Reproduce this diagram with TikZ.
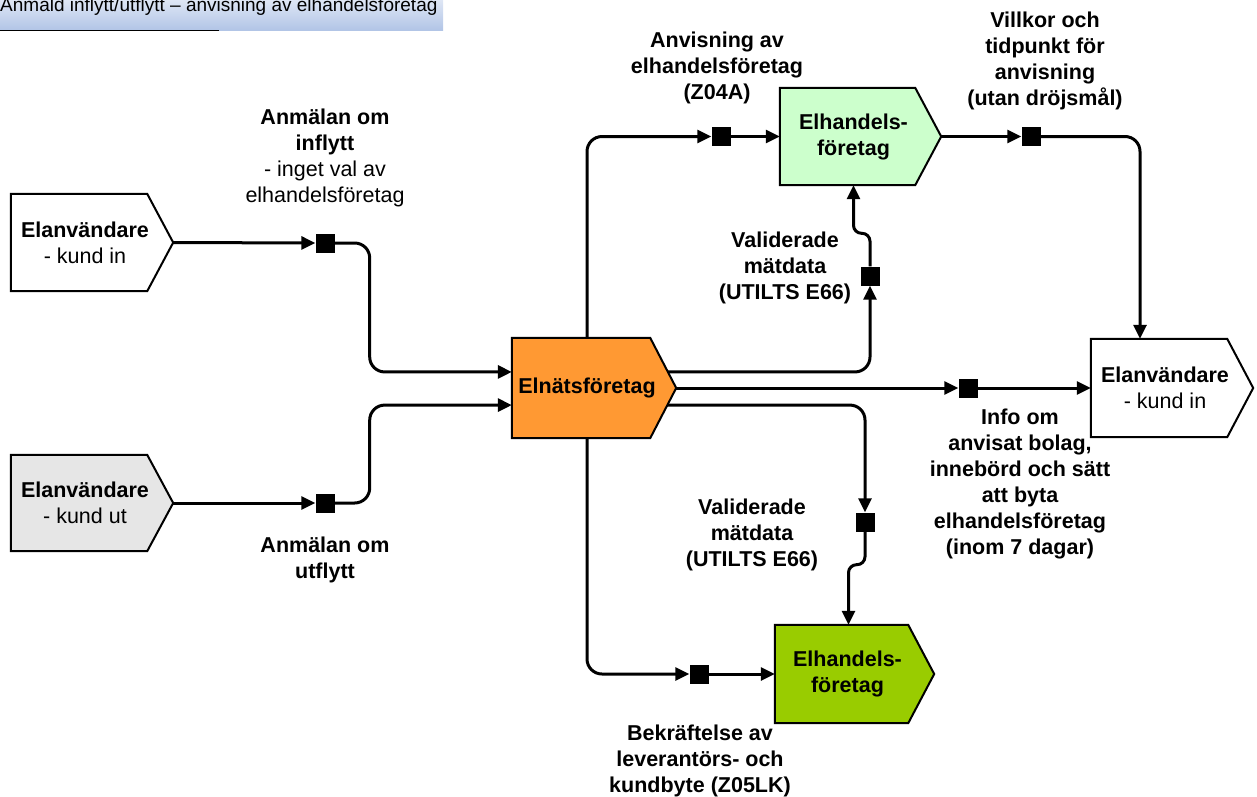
\documentclass[tikz,border=0pt]{standalone}
\usepackage{fontspec}
\setmainfont{Liberation Sans}
\usetikzlibrary{arrows.meta,calc}
\pgfdeclarelayer{bg}
\pgfsetlayers{bg,main}
\definecolor{orangeF}{RGB}{255,153,51}
\definecolor{lgreen}{RGB}{204,255,204}
\definecolor{dgreen}{RGB}{153,204,0}
\definecolor{lgray}{RGB}{230,230,230}
\definecolor{hdrtop}{RGB}{222,230,245}
\definecolor{hdrbot}{RGB}{178,197,230}
\tikzset{
  boxline/.style={draw=black, line width=2pt, line join=miter},
  boxtext/.style={align=center, font=\fontsize{21.5}{26}\selectfont, inner sep=0pt},
  lbl/.style={align=center, font=\fontsize{21.5}{26}\selectfont\bfseries, inner sep=0pt},
  sq/.style={fill=black, draw=none, minimum size=19pt, inner sep=0pt},
  conn/.style={line width=3pt, rounded corners=15pt},
  arr/.style={-{Triangle[length=14pt,width=13pt]}},
}
\newcommand\pentbox[7]{%
  \node[inner sep=0pt, minimum width=#4pt, minimum height=#5pt] (#1) at (#2,#3) {};
  \coordinate (#1-tip) at ([xshift=26pt]#1.east);
  \draw[boxline, fill=#6] (#1.north west) -- (#1.north east) -- (#1-tip) -- (#1.south east) -- (#1.south west) -- cycle;
  \node[boxtext] (#1-t) at ([xshift=6pt]#1.center) {#7};
}
\begin{document}
\begin{tikzpicture}[x=1pt, y=-1pt]
\useasboundingbox (0,0) rectangle (1257,796);
% header
\shade[top color=hdrtop, bottom color=hdrbot] (0,0) rectangle (443,30);
\node[anchor=base west, font=\fontsize{19}{22}\selectfont, inner sep=0pt] (hdr) at (0,11) {Anmäld inflytt/utflytt – anvisning av elhandelsföretag};
\draw[line width=1.5pt] (0,30.5) -- (219,30.5);

% boxes
\pentbox{kin}{79}{242.5}{136}{97}{white}{\textbf{Elanvändare}\\- kund in}
\pentbox{kout}{79}{503}{136}{96}{lgray}{\textbf{Elanvändare}\\- kund ut}
\pentbox{elnat}{581}{388}{138}{100}{orangeF}{\textbf{Elnätsföretag}}
\pentbox{eh1}{847.5}{136.5}{135}{97}{lgreen}{\textbf{Elhandels-}\\\textbf{företag}}
\pentbox{kin2}{1159}{388}{136}{98}{white}{\textbf{Elanvändare}\\- kund in}
\pentbox{eh2}{841.5}{674}{133}{98}{dgreen}{\textbf{Elhandels-}\\\textbf{företag}}

\coordinate (pA) at ($(elnat.north west)!0.34!(elnat.south west)$);
\coordinate (pB) at ($(elnat.north west)!0.67!(elnat.south west)$);

% squares
\node[sq] (sqA) at (325,243) {};
\node[sq] (sqB) at (325,503) {};
\node[sq] (sqC) at (721,136.5) {};
\node[sq] (sqD) at (870,276) {};
\node[sq] (sqE) at (968,388) {};
\node[sq] (sqF) at (865,522) {};
\node[sq] (sqG) at (699,674) {};
\node[sq] (sqH) at (1031,136.5) {};

% labels
\node[lbl] (lZ04) at (717,68) {Anvisning av\\elhandelsföretag\\(Z04A)};
\node[lbl] (lVill) at (1045,61) {Villkor och\\tidpunkt för\\anvisning\\(utan dröjsmål)};
\node[lbl] (lInf) at (325,158) {Anmälan om\\inflytt\\{\mdseries - inget val av}\\{\mdseries elhandelsföretag}};
\node[lbl] (lVal1) at (785,268) {Validerade\\mätdata\\(UTILTS E66)};
\node[lbl] (lInfo) at (1020,484) {Info om\\anvisat bolag,\\innebörd och sätt\\att byta\\elhandelsföretag\\(inom 7 dagar)};
\node[lbl] (lVal2) at (752,535) {Validerade\\mätdata\\(UTILTS E66)};
\node[lbl] (lUtf) at (325,560) {Anmälan om\\utflytt};
\node[lbl] (lBek) at (700,761) {Bekräftelse av\\leverantörs- och\\kundbyte (Z05LK)};

% connectors
\begin{pgfonlayer}{bg}
\draw[conn, arr] (kin-tip) -- (sqA.west);
\draw[conn, arr] (sqA.east) -- ++(35,0) |- (pA);
\draw[conn, arr] (kout-tip) -- (sqB.west);
\draw[conn, arr] (sqB.east) -- ++(35,0) |- (pB);
\draw[conn, arr] ([xshift=6pt]elnat.north) |- (sqC.west);
\draw[conn, arr] (sqC.east) -- (sqC.east -| eh1.west);
\draw[conn, arr] (pA -| elnat.east) -| (sqD.south);
\draw[conn, arr, rounded corners=8pt] (sqD.north) -- ++(0,-33) -| ([xshift=6pt]eh1.south);
\draw[conn, arr] (elnat-tip) -- (sqE.west);
\draw[conn, arr] (sqE.east) -- (kin2.west);
\draw[conn, arr] (pB -| elnat.east) -| (sqF.north);
\draw[conn, arr, rounded corners=8pt] (sqF.south) -- ++(0,33) -| ([xshift=7pt]eh2.north);
\draw[conn, arr] ([xshift=6pt]elnat.south) |- (sqG.west);
\draw[conn, arr] (sqG.east) -- (sqG.east -| eh2.west);
\draw[conn, arr] (eh1-tip) -- (sqH.west);
\draw[conn, arr] (sqH.east) -| ([xshift=-19pt]kin2.north);
\end{pgfonlayer}
\end{tikzpicture}
\end{document}
